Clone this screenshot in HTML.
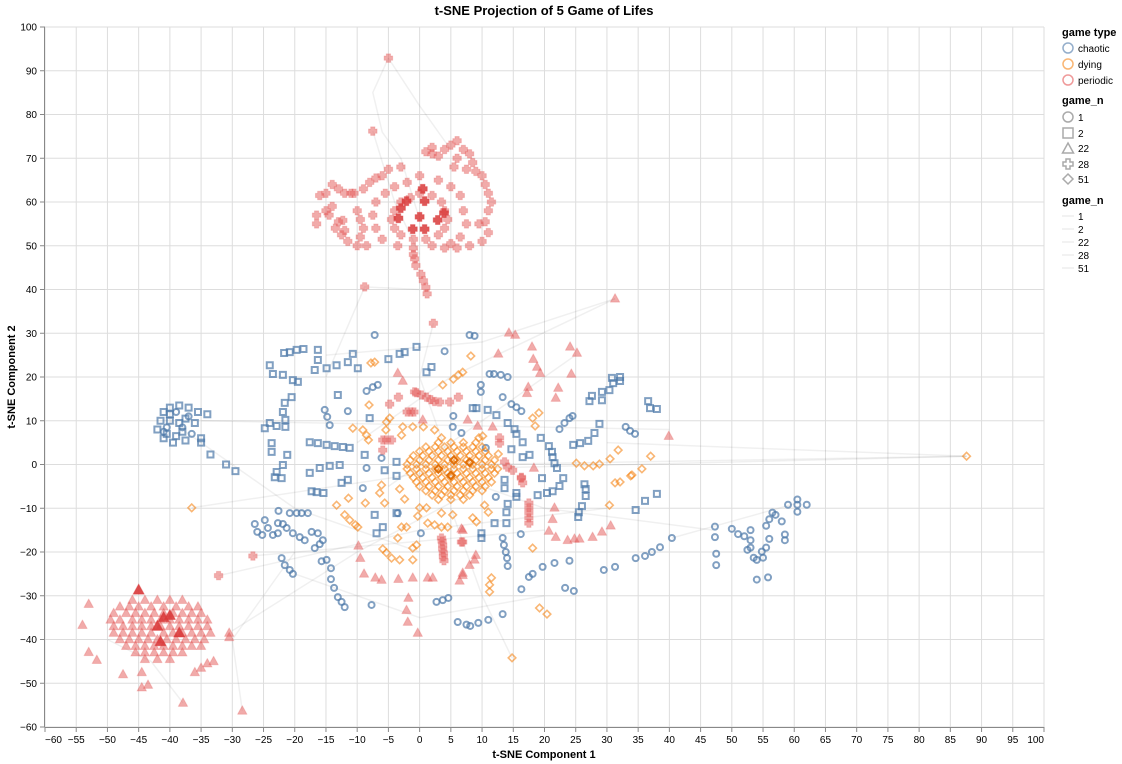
<!DOCTYPE html>
<html><head><meta charset="utf-8"><style>
html,body{margin:0;padding:0;background:#fff;}
svg{display:block;font-family:"Liberation Sans",Arial,sans-serif;}
</style></head><body>
<svg id="chart" width="1122" height="764" viewBox="0 0 1122 764">
<text x="544" y="15" text-anchor="middle" font-size="13" font-weight="bold" fill="#000">t-SNE Projection of 5 Game of Lifes</text>
<g id="grid"></g>
<g id="lines"></g>
<g id="marks"></g>
<g id="axes"></g>
<text x="544" y="758" text-anchor="middle" font-size="11" font-weight="bold">t-SNE Component 1</text>
<text transform="translate(15,377) rotate(-90)" text-anchor="middle" font-size="11" font-weight="bold">t-SNE Component 2</text>
<g id="legend">
<text x="1062" y="36" font-size="11" font-weight="bold">game type</text>
<g><circle cx="1068" cy="48" r="5" fill="none" stroke="#4c78a8" stroke-opacity="0.6" stroke-width="1.5"/><text x="1078" y="52" font-size="10">chaotic</text></g>
<g><circle cx="1068" cy="64" r="5" fill="none" stroke="#f58518" stroke-opacity="0.6" stroke-width="1.5"/><text x="1078" y="68" font-size="10">dying</text></g>
<g><circle cx="1068" cy="80" r="5" fill="none" stroke="#e45756" stroke-opacity="0.6" stroke-width="1.5"/><text x="1078" y="84" font-size="10">periodic</text></g>
<text x="1062" y="104" font-size="11" font-weight="bold">game_n</text>
<g><circle cx="1068" cy="117" r="5" fill="none" stroke="#aaa" stroke-width="1.5"/><text x="1078" y="121" font-size="10">1</text></g>
<g><rect x="1063" y="128" width="10" height="10" fill="none" stroke="#aaa" stroke-width="1.5"/><text x="1078" y="137" font-size="10">2</text></g>
<g><path d="M1068,143 L1073.5,153 L1062.5,153 Z" fill="none" stroke="#aaa" stroke-width="1.5"/><text x="1078" y="152" font-size="10">22</text></g>
<g><path d="M1066,159 h4 v3 h3 v4 h-3 v3 h-4 v-3 h-3 v-4 h3 Z" fill="none" stroke="#aaa" stroke-width="1.5"/><text x="1078" y="168" font-size="10">28</text></g>
<g><path d="M1068,174 L1073,179 L1068,184 L1063,179 Z" fill="none" stroke="#aaa" stroke-width="1.5"/><text x="1078" y="183" font-size="10">51</text></g>
<text x="1062" y="204" font-size="11" font-weight="bold">game_n</text>
<g><line x1="1062" y1="216" x2="1074" y2="216" stroke="#eee" stroke-width="1.5"/><text x="1078" y="220" font-size="10">1</text></g>
<g><line x1="1062" y1="229" x2="1074" y2="229" stroke="#eee" stroke-width="1.5"/><text x="1078" y="233" font-size="10">2</text></g>
<g><line x1="1062" y1="242" x2="1074" y2="242" stroke="#eee" stroke-width="1.5"/><text x="1078" y="246" font-size="10">22</text></g>
<g><line x1="1062" y1="255" x2="1074" y2="255" stroke="#eee" stroke-width="1.5"/><text x="1078" y="259" font-size="10">28</text></g>
<g><line x1="1062" y1="268" x2="1074" y2="268" stroke="#eee" stroke-width="1.5"/><text x="1078" y="272" font-size="10">51</text></g>
</g>
</svg>
<script>
const xTicks=[-60,-55,-50,-45,-40,-35,-30,-25,-20,-15,-10,-5,0,5,10,15,20,25,30,35,40,45,50,55,60,65,70,75,80,85,90,95,100];
const yTicks=[-60,-50,-40,-30,-20,-10,0,10,20,30,40,50,60,70,80,90,100];

const chaoticSquares=[[-21.7,25.5],[-20.8,25.7],[-19.7,26.2],[-18.6,26.4],[-16.3,26.2],[-16.3,23.9],[-16.8,21.6],[-14.9,22],[-13.3,22.7],[-10.7,25.3],[-11.5,23.4],[-9.9,22],[-24,22.7],[-23.5,20.7],[-21.9,20.5],[-20.3,19.3],[-19.5,18.9],[-20.5,15.4],[-21.6,14.1],[-21.9,12],[-21.5,10.2],[-21.5,8.6],[-24,9.5],[-24.8,8.3],[-22.9,8.8],[-13.1,15.9],[-17.6,5.1],[-16.3,4.9],[-14.9,4.5],[-13.6,4.2],[-12.3,4],[-11.2,3.8],[-23.7,4.9],[-23.7,2.9],[-21.2,2.2],[-21.9,-0.1],[-22.9,-1.7],[-23.2,-2.9],[-17.6,-1.9],[-16,-0.8],[-14.4,-0.3],[-12.8,-0.1],[-8.8,2.2],[-5.6,-1.3],[-3.7,0.6],[-8,10.6],[-5,24.1],[-3.2,25.3],[-2.4,25.7],[-0.5,26.9],[1.1,21.1],[1.9,22.3],
[-17.3,-6.1],[-16.5,-6.3],[-15.4,-6.5],[-12.5,-4.2],[-11.5,-3.5],[-22.1,-3.1],[-7.2,-11.5],[-5.9,-14.3],[-6.9,-15.7],[-3.7,-2.6],[-3.7,-11.1],
[13.6,-3.5],[13.6,-5.4],[15.5,-6.5],[15.5,-7.4],[14.1,-9],[13.9,-10.9],[12,-13.4],[13.9,-13.4],[9.9,-15.7],[9.9,-16.8],[19.6,-3.1],[23,-3.1],[18.9,-7],[20.4,-6.5],[21.3,-6.1],[22.4,-4.9],[26.4,-4.5],[26.6,-5.6],[26.6,-7.2],[26,-9.5],[25.5,-10.9],[25.4,-12],[34.6,-10.4],[36.1,-8.3],[38,-6.7],
[8.5,12.9],[9.1,12.9],[10.9,12.5],[12.3,11.3],[14.1,9.5],[15.2,8.1],[15.5,7],[16.5,5.1],[14.7,3.5],[19.4,6.1],[20.7,4.2],[21.2,2.9],[21.3,1.7],[21.6,0.3],[22,-0.8],[16.5,1.7],[17.6,2.2],[24.6,4.5],[25.7,4.9],[27,5.4],[28,7.2],[28.8,9.3],[27.2,14.5],[27.6,15.7],[29.2,14.7],[29.2,16.6],[30.4,17],[31,18.6],[30.8,19.8],[32.1,20],[32.1,19.1],[36.6,14.5],[36.9,12.9],[38,12.7],
[-41,12],[-40,13],[-38.5,13.5],[-37,13],[-35.5,12],[-34,11.5],[-41.5,10],[-40,10],[-38.5,9.5],[-37.5,10.5],[-42,8],[-40.5,7],[-39,6.5],[-38,7.5],[-37.5,5.5],[-39.5,5],[-41,6],[-35,6],[-35,5],[-33.5,2.3],[-31,0],[-29.5,-1.5],[-36,9.5],[-40,11.5]];

const chaoticCircles=[[-7.2,29.6],[4,25.9],[-8.5,16.8],[-7.5,17.7],[-6.7,18.2],[-15.2,12.5],[-14.8,10.9],[-14.4,9],[-11.5,12.2],[-6.1,1.5],[-8.5,-0.8],
[8,29.6],[8.8,29.4],[11.2,20.7],[11.9,20.7],[13,20.5],[14.1,20],[9.8,18.2],[9.8,16.6],[13.3,15.4],[14.7,13.8],[15.5,13.1],[16.3,12.2],[22.4,8.1],[23.2,9.5],[24,10.6],[24.5,11.1],[33,8.6],[33.7,7.7],[34.5,7],[5.4,11.1],[5.3,8.6],[6.7,7.2],[10.6,3.8],
[-22.6,-10.6],[-20.8,-11.1],[-19.7,-11.1],[-18.9,-11.1],[-17.9,-11.1],[-9.1,-5.4],[-26.4,-13.6],[-24.8,-12.7],[-26,-15.4],[-25.2,-16.1],[-24.3,-14.5],[-22.7,-13.4],[-21.9,-13.6],[-23.5,-16.1],[-22.7,-15.7],[-21.3,-14.5],[-20.3,-15.7],[-19.2,-16.6],[-18.4,-17.3],[-17.3,-15.4],[-16.3,-15.7],[-15.5,-17.3],[-16,-18.2],[-16.8,-19.1],[-22.1,-21.4],[-21.6,-23],[-20.8,-24.1],[-20.3,-25],[-15.7,-22.1],[-14.9,-21.8],[-14.2,-23.7],[-14.2,-26.2],[-13.7,-28.2],[-13.1,-30.3],[-12.5,-31.4],[-12,-32.6],[-7.7,-32.1],[-3.5,-11.1],[0.2,-15.7],[2.7,-31.4],[3.7,-31],[4.6,-30.5],[6.1,-36],[7.5,-36.6],
[12.2,-7.4],[16.2,-15.9],[13.3,-16.8],[13.5,-18.4],[13.8,-20],[14,-21.4],[14.1,-23.2],[16.3,-28.5],[17.5,-25.7],[18.1,-25],[19.7,-23.4],[21.6,-22.5],[24,-22],[23.3,-28.2],[24.7,-28.9],[29.5,-24.1],[31.3,-23.4],[34.6,-21.4],[36.1,-20.9],[37.2,-20],[38.5,-18.9],[40.4,-16.8],[13.3,-34.2],[11,-35.5],[9.4,-36.2],[8.1,-36.9],
[-39,12],[-37,11],[-40.5,8.5],[-38,8.5],[-36.5,7],[-41,7.5],
[47.3,-14.2],[47.3,-16.6],[47.5,-20.4],[47.5,-23],[50,-14.7],[51,-15.9],[52,-16.4],[53,-15],[53,-17.3],[52.5,-19.5],[53.5,-21.3],[54,-21.8],[55,-21.3],[55.5,-19],[56,-17],[55.5,-14],[56.5,-11],[57,-11.5],[56,-12.5],[58,-13],[58.5,-16],[58.5,-17.3],[54,-26.3],[55.8,-25.8],[59,-9.2],[60.5,-8],[60.5,-9.2],[62,-9.2],[60.5,-10.8],[53,-19],[54.8,-19.9]];

const dyingDiamonds=[[3,5],[5,5],[7,5],[9,5],[1,4],[2.5,4],[4,4],[5.5,4],[7,4],[8.5,4],[10,4],[0,3],[1.5,3],[3,3],[4.5,3],[6,3],[7.5,3],[9,3],[10.5,3],[-1,2],[0.5,2],[2,2],[3.5,2],[5,2],[6.5,2],[8,2],[9.5,2],[11,2],[-1.5,1],[0,1],[1.5,1],[3,1],[4.5,1],[6,1],[7.5,1],[9,1],[10.5,1],[12,1],[-2,0],[-0.5,0],[1,0],[2.5,0],[4,0],[5.5,0],[7,0],[8.5,0],[10,0],[11.5,0],[-2,-1],[-0.5,-1],[1,-1],[2.5,-1],[4,-1],[5.5,-1],[7,-1],[8.5,-1],[10,-1],[11.5,-1],[12.5,-1],[-1.5,-2],[0,-2],[1.5,-2],[3,-2],[4.5,-2],[6,-2],[7.5,-2],[9,-2],[10.5,-2],[12,-2],[-1,-3],[0.5,-3],[2,-3],[3.5,-3],[5,-3],[6.5,-3],[8,-3],[9.5,-3],[11,-3],[-0.5,-4],[1,-4],[2.5,-4],[4,-4],[5.5,-4],[7,-4],[8.5,-4],[10,-4],[11.5,-4],[0,-5],[1.5,-5],[3,-5],[4.5,-5],[6,-5],[7.5,-5],[9,-5],[10.5,-5],[1,-6],[2.5,-6],[4,-6],[5.5,-6],[7,-6],[8.5,-6],[10,-6],[2,-7],[3.5,-7],[5,-7],[6.5,-7],[8,-7],[3,-8],[5,-8],[7,-8],
[-7.2,23.4],[-7.8,23.2],[-8.1,13.6],[-10.7,8.3],[-4.8,10.6],[-5.3,9.7],[-5.4,7.9],[-9.1,7.9],[-8.5,6.7],[-8.2,5.6],[-2.7,8.6],[-1.1,8.6],[0.6,8.6],[2.4,7.9],[3.5,6.1],[-2.9,6.7],[3.7,18.2],
[8.2,24.8],[6.9,21.1],[6.2,20.5],[5.4,19.5],[19.1,11.8],[18.1,10.6],[18.5,8.8],[10.1,6.5],[9.5,6.1],[12.6,2.4],[25.1,0.3],[26.4,-0.3],[27.8,-0.3],[28.8,0.1],[30.5,1.3],[31.8,3.3],[34,-2.4],[35.6,-1],[37,1.9],
[-13.3,-9.3],[-11.4,-7.7],[-8.7,-8.8],[-12,-11.5],[-11.2,-12.7],[-10.3,-13.8],[-9.9,-14.3],[-6.4,-6.5],[-6.1,-4.7],[-5.6,-8.8],[-3.2,-5.6],[-2.4,-7.9],[-5.9,-19.3],[-5.3,-20.2],[-4.5,-21.4],[-3.2,-21.8],[-3.5,-16.8],[-2.9,-14.3],[-2.1,-14.3],[-1.1,-19.1],[-0.5,-18.4],[-1.1,-21.8],[0,-9.9],[1.1,-9.9],[-0.3,-11.8],[1.3,-13.4],[2.4,-13.8],[3.5,-14.3],[4.5,-14.3],[3.5,-11.1],[5.3,-11.5],
[10.4,-9.3],[11,-10.9],[8.5,-12.2],[9.1,-13.1],[18.1,-19.1],[11.5,-25.9],[11.2,-27.5],[11.2,-29.1],[19.2,-32.8],[20.4,-34.2],[14.8,-44.2],[30.4,-9.3],[31.3,-4.2],[32.1,-4],[33.8,-2.6],
[-36.5,-9.9],[87.6,1.9]];
const dyingDark=[[5.5,1],[3,-1],[5,-2.5],[8,0.5]];

const periodicTriangles=[[14.3,30.1],[15.3,29.6],[12.6,25.3],[18,26.9],[18.2,24.1],[18.8,22.3],[19.3,20.9],[24.1,26.9],[25.2,25.5],[24.3,20.7],[22.2,17.5],[17.4,17.7],[17.2,16.3],[21.8,15.2],[7.7,10.2],[9.3,8.8],[11.7,8.6],[18.3,-0.8],[39.9,6.5],[31.3,37.9],[-3.5,20.9],[-2.7,19.1],[0.5,10.2],
[6.7,-14.7],[-9.8,-18.6],[-9.5,-21.4],[-8.9,-25],[-7.1,-25.9],[-6.1,-26.4],[-3.4,-26.2],[-1.1,-25.9],[1.3,-25.9],[2.1,-25.9],[6.4,-26.6],[6.9,-24.8],[-1.8,-30.5],[-2.1,-33.3],[-1.9,-36],[-0.3,-38.5],
[21.6,-9.9],[21.3,-12.5],[20.7,-15.2],[21.8,-16.6],[23.7,-17.3],[24.8,-17],[25.6,-17],[27.7,-16.6],[29.2,-15.4],[30.6,-14],[6.9,-15],[9,-20.7],[8.8,-21.8],[8,-23],[6.9,-25.3],
[-53,-31.9],[-54,-36.7],[-53,-42.9],[-51.7,-44.7],[-47.5,-48],[-43.5,-50.4],[-44.5,-51],[-37.9,-54.5],[-28.4,-56.3],[-33,-45],[-34,-45.5],[-35,-46.5],[-36,-47.5],[-30.5,-38.5],[-30.5,-39.5],[-44.5,-47.5],
[-46,-31],[-44,-31],[-42,-31],[-40,-31],[-38,-31],
[-48,-32.5],[-46.5,-32.5],[-45,-32.5],[-43,-32.5],[-41,-32.5],[-39,-32.5],[-37,-32.5],[-35.5,-32.5],
[-49,-34],[-47,-34],[-45.5,-34],[-44,-34],[-42.5,-34],[-41,-34],[-39.5,-34],[-38,-34],[-36.5,-34],[-35,-34],
[-49.5,-35.5],[-48,-35.5],[-46,-35.5],[-44.5,-35.5],[-43,-35.5],[-41.5,-35.5],[-40,-35.5],[-38.5,-35.5],[-37,-35.5],[-35.5,-35.5],[-34,-35.5],
[-49,-37],[-47.5,-37],[-46,-37],[-44.5,-37],[-43,-37],[-41.5,-37],[-40,-37],[-38.5,-37],[-37,-37],[-35.5,-37],[-34,-37],
[-49,-38.5],[-47.5,-38.5],[-46,-38.5],[-44.5,-38.5],[-43,-38.5],[-41,-38.5],[-39.5,-38.5],[-38,-38.5],[-36.5,-38.5],[-35,-38.5],[-33.5,-38.5],
[-48,-40],[-46.5,-40],[-45,-40],[-43.5,-40],[-42,-40],[-40.5,-40],[-39,-40],[-37.5,-40],[-36,-40],[-34.5,-40],
[-47,-41.5],[-45.5,-41.5],[-44,-41.5],[-42.5,-41.5],[-41,-41.5],[-39.5,-41.5],[-38,-41.5],[-36.5,-41.5],[-35,-41.5],
[-45.5,-43],[-44,-43],[-42.5,-43],[-41,-43],[-39.5,-43],[-38,-43],[-44,-44.5],[-42,-44.5],[-40,-44.5]];
const periodicTrianglesDark=[[-45,-28.7],[-41,-35],[-42,-37],[-38.5,-38.5],[-41.5,-40.5],[-40,-34.5]];

const periodicCrosses=[[-3,60],[-1.5,61],[0,62],[2,61.5],[3.5,60],[4,58],[4.5,56],[4,54],[3,52.5],[1,51.5],[-1,51.5],[-3,52.5],[-4,54],[-4.5,56],[-4,58],
[-5.5,62],[-4,63.5],[-2,64.5],[0,66],[3,65],[5,63.5],[6.5,61.5],[7,58],[7.5,55],[6.5,52],[5,50.5],[2,50],[-1,49.5],[-3.5,50],[-6,51.5],[-7,54],[-7.5,57],[-7,60],
[-16.5,57],[-16.5,55],[-15,58],[-14,59],[-14.5,57],[-13.5,54],[-12.5,52.5],[-11.5,51],[-10,50],[-8.5,50],[-13,55.5],[-12,53.5],[-15,62],[-16,61.5],[-14,64],[-13,63],[-12,62],[-10.5,62],[-9,63],[-8,64.5],[-7,65.5],[-6,66],[-11,62],[-12.3,55.8],[-9.5,56],[-9,54],[-9.5,52],[-10,58],
[-5,67.5],[-3,68],[1,71.5],[2,71],[3,70.5],[4,72],[5,73],[6,74],[7,72],[8,71],[6,70],[5.5,68],[8.5,69],[7.5,67.5],[9,67],[10,66],[10.5,64],[11,62],[11.5,60],[11,58],[10.5,55.5],[11,53],[10,51],[8,50],[6,49.5],[4,49.5],[9.5,55],[2,72.5],
[-7.5,76.2],[-5,92.9],[-1,48],[-0.8,47],[-0.6,45.5],[0.2,43.5],[0.6,42],[1,40.5],[1.2,39],[-8.8,40.6],[2.2,32.3],
[-4.8,13.8],[-3.4,15.4],[-0.8,16.6],[-0.5,16.4],[0.3,15.9],[1.1,15.4],[1.8,14.8],[2.4,14.4],[-2,12],[-1.4,12],[-0.9,12],[3.2,14.3],[-5.9,5.6],[-5.3,5.6],[-4.5,5.6],[-5.9,3.3],[-26.7,-20.9],[-32.2,-25.4],
[4.8,14.3],[6.2,15.4],[12.8,6.1],[12.8,4.9],[13.6,0.6],[14.1,-0.6],[14.9,-1.3],[16.3,-2.9],
[3.5,-16.8],[3.6,-17.5],[3.7,-18.4],[3.7,-19.3],[3.8,-20.2],[3.8,-21.1],[3.9,-22],[6.7,-17.7],
[17.5,-8.8],[17.5,-9.9],[17.5,-11],[17.5,-12.2],[17.5,-13.4],[16.3,-3.1],[16.5,-4.2],[6.9,-17.7]];
const periodicCrossesDark=[[-2.1,60.2],[0.8,60.2],[-3,58.6],[-3.4,56.3],[0,56.6],[-1.1,53.8],[0.8,53.8],[3.9,57.5],[0.5,63],[2.9,55.9]];

const trajectories=[
[[-5,92.9],[-7.5,85],[-6,76],[-3,70],[0,56]],
[[-5,92.9],[0,82],[5,72]],
[[-7.5,76.2],[-4,60],[0,48]],
[[0,40],[-8.8,40.6],[-12,30],[-15,20]],
[[2.2,32.3],[0,20],[5,0]],
[[-36.5,-9.9],[5,-1],[87.6,1.9]],
[[10,0],[87.6,1.9]],
[[30,5],[87.6,1.9]],
[[-35,10],[40,8]],
[[31.3,37.9],[5,20],[-10,5]],
[[-28.4,-56.3],[-30,-40],[-20,-20]],
[[-32.2,-25.4],[0,-15],[30,-10]],
[[-26.7,-20.9],[20,-15]],
[[14.8,-44.2],[10,-30],[5,-10]],
[[-37.9,-54.5],[-43,-45],[-50,-40]],
[[47,-15],[20,-10],[0,0]],
[[40.4,-16.8],[60,-9]],
[[-20,-25],[0,-35],[20,-30]],
[[-15,25],[10,28],[31.3,37.9]],
[[-40,10],[-20,-10],[0,-20]],
[[-30,-38],[-10,-20],[10,-5]],
[[25,25],[10,10],[-5,-5]]];

const X0=45,X1=1044,Y0=727,Y1=27;
function sx(v){return X0+(v+60)*(X1-X0)/160;}
function sy(v){return Y0-(v+60)*(Y0-Y1)/160;}
const NS='http://www.w3.org/2000/svg';
function mk(tag,parent,attrs){const e=document.createElementNS(NS,tag);for(const k in attrs)e.setAttribute(k,attrs[k]);parent.appendChild(e);return e;}

const grid=document.getElementById('grid');
const axes=document.getElementById('axes');
xTicks.forEach((t,i)=>{
  const gl=mk('line',grid,{x1:sx(t),x2:sx(t),y1:Y1,y2:Y0,stroke:'#ddd','stroke-width':1});
  
  
  mk('line',axes,{x1:sx(t),x2:sx(t),y1:Y0,y2:Y0+5,stroke:'#888'});
  const tx=mk('text',axes,{x:sx(t),y:Y0+16,'font-size':10,'text-anchor':i===0?'start':(i===xTicks.length-1?'end':'middle'),fill:'#000'});
  tx.textContent=(t<0?'\u2212'+(-t):String(t));
  
  
});
yTicks.forEach(t=>{
  const gl=mk('line',grid,{x1:X0,x2:X1,y1:sy(t),y2:sy(t),stroke:'#ddd','stroke-width':1});
  
  
  mk('line',axes,{x1:X0-5,x2:X0,y1:sy(t),y2:sy(t),stroke:'#888'});
  const tx=mk('text',axes,{x:X0-8,y:sy(t)+3.5,'font-size':10,'text-anchor':'end',fill:'#000'});
  tx.textContent=(t<0?'\u2212'+(-t):String(t));
  
  
});
mk('line',axes,{x1:X0,x2:X1,y1:Y0+0.5,y2:Y0+0.5,stroke:'#888'});
mk('line',axes,{x1:X0-0.5,x2:X0-0.5,y1:Y1,y2:Y0,stroke:'#888'});

const lines=document.getElementById('lines');
trajectories.forEach(tr=>{
  const d=tr.map((p,i)=>(i?'L':'M')+sx(p[0]).toFixed(1)+','+sy(p[1]).toFixed(1)).join(' ');
  const pth=mk('path',lines,{d:d,fill:'none',stroke:'#000','stroke-opacity':0.06,'stroke-width':1.5});
  
  
});

const marks=document.getElementById('marks');
function shapePath(kind,x,y,s){
  if(kind==='square')return `M${x-3},${y-3}h6v6h-6Z`;
  if(kind==='diamond')return `M${x},${y-3.8}L${x+3.8},${y}L${x},${y+3.8}L${x-3.8},${y}Z`;
  if(kind==='triangle'){const h=s;return `M${x},${y-h*0.6}L${x+h*0.55},${y+h*0.4}L${x-h*0.55},${y+h*0.4}Z`;}
  if(kind==='cross'){const a=s*0.25,b=s*0.5;return `M${x-a},${y-b}h${2*a}v${b-a}h${b-a}v${2*a}h${a-b}v${b-a}h${-2*a}v${a-b}h${a-b}v${-2*a}h${b-a}Z`;}
  return '';
}
function drawSet(arr,kind,color,filled,opacity,size,name,sw){
  arr.forEach(p=>{
    const x=sx(p[0]),y=sy(p[1]);
    let el;
    if(kind==='circle'){
      el=mk('circle',marks,{cx:x,cy:y,r:3,fill:'none',stroke:color,'stroke-width':2,'stroke-opacity':opacity});
    }else{
      const at={d:shapePath(kind,x,y,size)};
      if(filled){at.fill=color;at['fill-opacity']=opacity;at.stroke=color;at['stroke-opacity']=opacity*0.5;at['stroke-width']=1;at['stroke-linejoin']='round';}
      else{at.fill='none';at.stroke=color;at['stroke-width']=sw||2;at['stroke-opacity']=opacity;}
      el=mk('path',marks,at);
    }
    
    
  });
}
drawSet(chaoticSquares,'square','#4c78a8',false,0.7,7,'chaotic-square-point');
drawSet(chaoticCircles,'circle','#4c78a8',false,0.7,7,'chaotic-circle-point');
drawSet(dyingDiamonds,'diamond','#f58518',false,0.6,8,'dying-diamond-point',1.6);
drawSet(dyingDark,'diamond','#e0700a',false,1,8,'dying-diamond-point-dark',2);
drawSet(periodicTriangles,'triangle','#e45756',true,0.5,8.5,'periodic-triangle-point');
drawSet(periodicTrianglesDark,'triangle','#d9393a',true,0.9,10,'periodic-triangle-point-dark');
drawSet(periodicCrosses,'cross','#e45756',true,0.5,8.5,'periodic-cross-point');
drawSet(periodicCrossesDark,'cross','#d9393a',true,0.85,9,'periodic-cross-point-dark');
</script>
</body></html>
